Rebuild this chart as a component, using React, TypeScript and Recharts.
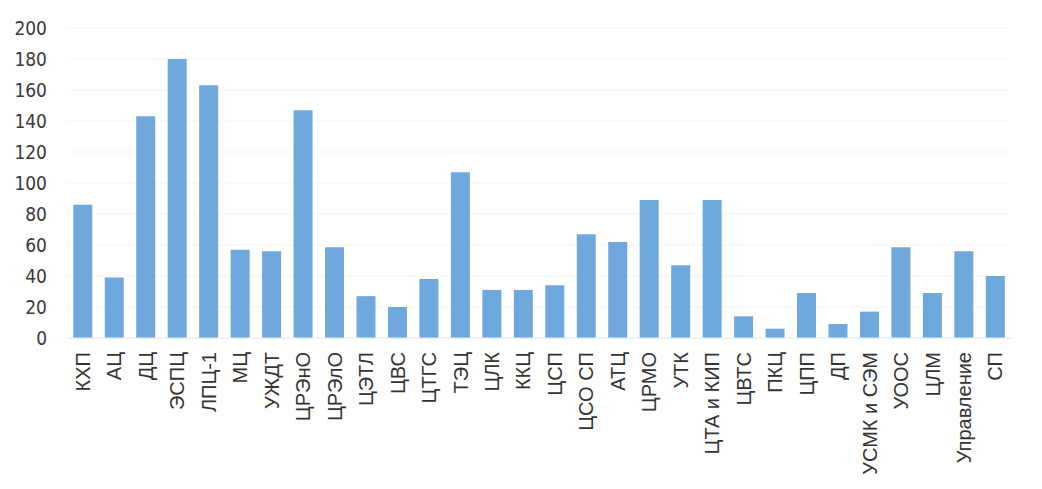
import React from "react";
import { BarChart, Bar, XAxis, YAxis, CartesianGrid } from "recharts";

const departments = [
  "КХП", "АЦ", "ДЦ", "ЭСПЦ", "ЛПЦ-1", "МЦ", "УЖДТ", "ЦРЭнО", "ЦРЭлО", "ЦЭТЛ",
  "ЦВС", "ЦТГС", "ТЭЦ", "ЦЛК", "ККЦ", "ЦСП", "ЦСО СП", "АТЦ", "ЦРМО", "УТК",
  "ЦТА и КИП", "ЦВТС", "ПКЦ", "ЦПП", "ДП", "УСМК и СЭМ", "УООС", "ЦЛМ", "Управление", "СП",
];

const counts = [
  86, 39, 143, 180, 163, 57, 56, 147, 58.5, 27,
  20, 38, 107, 31, 31, 34, 67, 62, 89, 47,
  89, 14, 6, 29, 9, 17, 58.5, 29, 56, 40,
];

const yTicks = [0, 20, 40, 60, 80, 100, 120, 140, 160, 180, 200];

const data = departments.map((name, i) => ({ name, value: counts[i] }));

function RotatedTick(props: any) {
  const { x, y, payload } = props;
  return (
    <text
      x={x}
      y={y}
      transform={`rotate(-90, ${x}, ${y})`}
      textAnchor="end"
      dy="0.36em"
      fill="#333"
      fontSize={20}
      fontFamily="Liberation Sans, Arial, sans-serif"
    >
      {payload.value}
    </text>
  );
}

export default function App() {
  return (
    <div style={{ position: "absolute", left: 0, top: 0, background: "#fff" }}>
      <BarChart
        width={1042}
        height={489}
        data={data}
        margin={{ top: 28, right: 31, left: 0, bottom: 0 }}
        barCategoryGap="20%"
      >
        <CartesianGrid vertical={false} stroke="#f5f5f5" />
        <XAxis
          dataKey="name"
          interval={0}
          height={151}
          axisLine={{ stroke: "#e3ecf6" }}
          tickLine={false}
          tickSize={0}
          tickMargin={14}
          tick={<RotatedTick />}
        />
        <YAxis
          width={67}
          domain={[0, 200]}
          ticks={yTicks}
          axisLine={false}
          tickLine={false}
          tickSize={0}
          tickMargin={20}
          tick={{
            fill: "#3a3a3a",
            fontSize: 19,
            fontFamily: "DejaVu Sans Condensed, DejaVu Sans, sans-serif",
          }}
        />
        <Bar dataKey="value" fill="#6fa8dc" isAnimationActive={false} />
      </BarChart>
    </div>
  );
}
